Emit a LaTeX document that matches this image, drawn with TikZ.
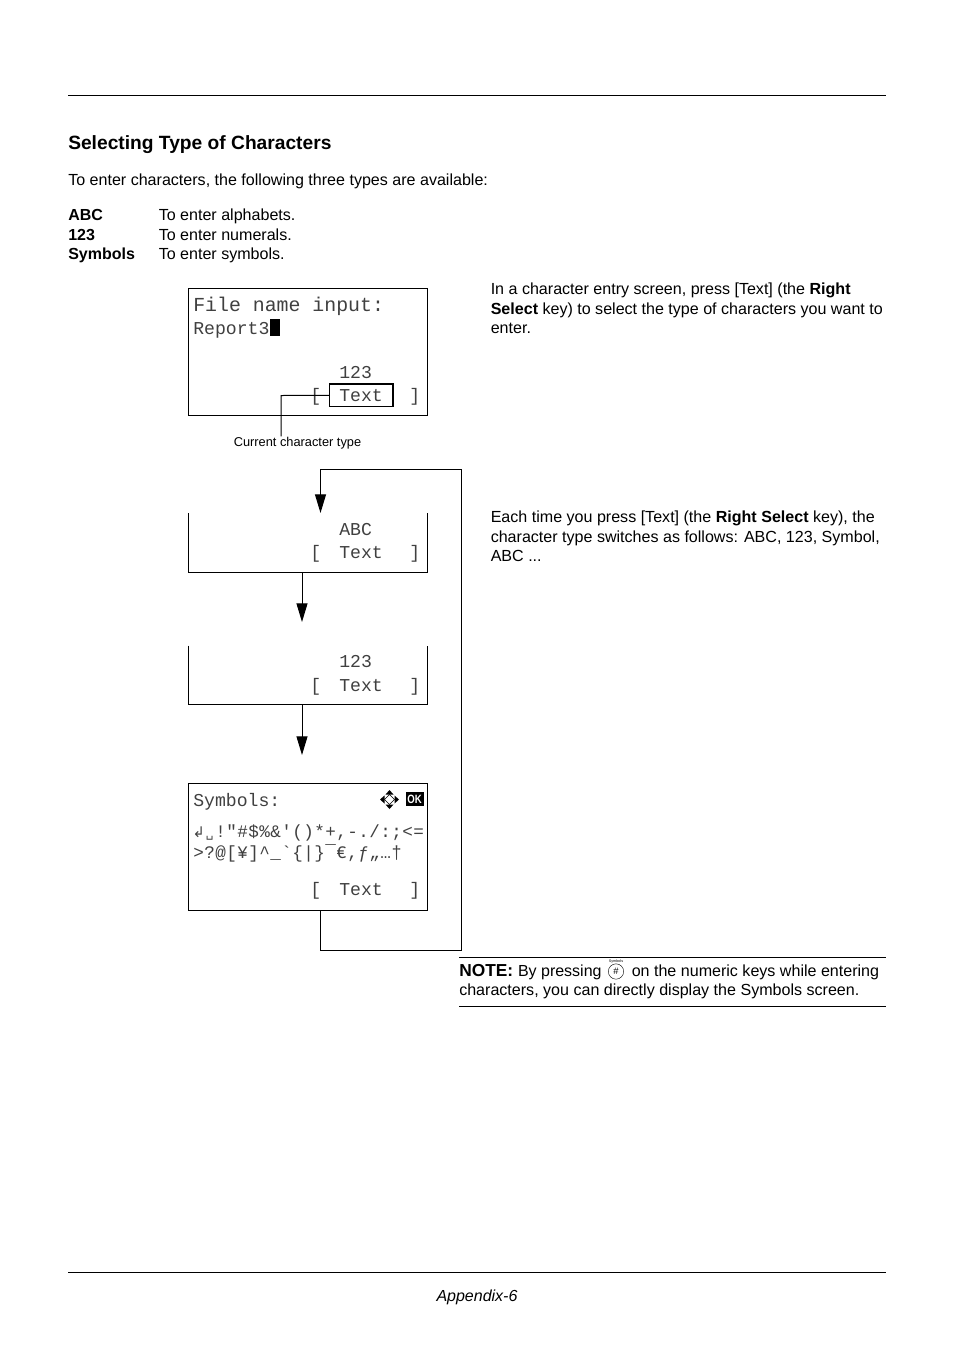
\documentclass[tikz,border=0pt]{standalone}
\usepackage{fontspec}
\setmainfont{Liberation Sans}
\newfontfamily\lcdfont{Liberation Mono}
\newfontfamily\dejafont{DejaVu Sans}
\usetikzlibrary{arrows.meta, positioning}
\newcommand{\lcdchar}[1]{\makebox[8.25pt][c]{#1}}
\begin{document}
\begin{tikzpicture}[
    x=0.75pt, y=-0.75pt,
    body/.style    = {anchor=base west, inner sep=0pt, font=\fontsize{12.05}{14.6}\selectfont, align=left},
    lcd/.style     = {anchor=base west, inner sep=0pt, font=\lcdfont\fontsize{13.6}{16}\selectfont, text=black!75},
    lcdbig/.style  = {lcd, font=\lcdfont\fontsize{14.9}{16}\selectfont},
    lcdsym/.style  = {lcd, font=\lcdfont\fontsize{13.2}{16}\selectfont},
    screen/.style  = {inner sep=0pt, outer sep=0pt, minimum width=179.25pt, anchor=north west},
    arrow/.style   = {-{Triangle[length=14pt, width=8.25pt]}, line width=0.75pt},
    rule/.style    = {line width=0.6pt},
]
\useasboundingbox (0,0) rectangle (954,1350);

%% Page rules
\coordinate (topl) at (68,95.5);    \coordinate (topr) at (886,95.5);
\coordinate (botl) at (68,1272.5);  \coordinate (botr) at (886,1272.5);
\draw[rule] (topl) -- (topr);
\draw[rule] (botl) -- (botr);

%% Heading and list
\node[body, font=\fontsize{14.4}{16}\selectfont\bfseries] (title) at (68,149) {Selecting Type of Characters};
\node[body] (intro) at (68,185) {To enter characters, the following three types are available:};
\node[body, font=\fontsize{12}{14.6}\selectfont\bfseries] (abckey) at (68,220) {ABC};
\node[body] (abctxt) at (158.5,220) {To enter alphabets.};
\node[body, font=\fontsize{12}{14.6}\selectfont\bfseries] (numkey) at (68,240) {123};
\node[body] (numtxt) at (158.5,240) {To enter numerals.};
\node[body, font=\fontsize{12}{14.6}\selectfont\bfseries] (symkey) at (68,259) {Symbols};
\node[body] (symtxt) at (158.5,259) {To enter symbols.};

%% Right column
\node[body, anchor=north west] (para1) at (490.5,283) {In a character entry screen, press [Text] (the \textbf{Right}\\
  \textbf{Select} key) to select the type of characters you want to\\ enter.};
\node[body, anchor=north west] (para2) at (490.5,511) {Each time you press [Text] (the \textbf{Right Select} key), the\\
  character type switches as follows: ABC, 123, Symbol,\\ ABC ...};

%% Input screen
\node[screen, draw, minimum height=95.25pt] (input) at (188.5,288.5) {};
\node[lcdbig] (inputa) at (193,311) {File name input:};
\node[lcd] (inputb) at (193,334) {Report3};
\node[fill=black, inner sep=0pt, minimum width=7.5pt, minimum height=12.75pt, anchor=south west] (cursor) at (270,336) {};
\node[lcd] (inputc) at (339,378) {123};
\node[lcd] (inputd) at (310,401) {[};
\node[lcd] (inpute) at (339,401) {Text};
\node[lcd] (inputf) at (409,401) {]};
\node[draw, line width=1.1pt, inner sep=0pt, outer sep=0pt, minimum width=47.5pt, minimum height=17pt, anchor=north west] (textkey) at (329.5,384) {};
\node[inner sep=0pt, anchor=base, font=\fontsize{9.6}{11}\selectfont] (curtype) at (297.5,446) {Current character type};
\coordinate (keyturn) at (281,395.5);
\draw[line width=0.75pt] (textkey.west) -- (keyturn) -- (keyturn |- curtype.north);

%% ABC screen
\node[screen, minimum height=44.25pt] (abc) at (188.5,513) {};
\node[lcd] (abca) at (339,535) {ABC};
\node[lcd] (abcb) at (310,558) {[};
\node[lcd] (abcc) at (339,558) {Text};
\node[lcd] (abcd) at (409,558) {]};
\draw (abc.north west) -- (abc.south west) -- (abc.south east) -- (abc.north east);

%% 123 screen
\node[screen, minimum height=44.25pt] (num) at (188.5,645.5) {};
\node[lcd] (numa) at (339,667) {123};
\node[lcd] (numb) at (310,691) {[};
\node[lcd] (numc) at (339,691) {Text};
\node[lcd] (numd) at (409,691) {]};
\draw (num.north west) -- (num.south west) -- (num.south east) -- (num.north east);

%% Symbols screen
\node[screen, draw, minimum height=95.25pt] (syms) at (188.5,783.5) {};
\node[lcd] (symsa) at (193,806) {Symbols:};
\node[lcdsym] (symsb) at (193,837) {\lcdchar{\dejafont\fontsize{11}{12}\selectfont ↲}\lcdchar{\dejafont\fontsize{9}{10}\selectfont ␣}\lcdchar{!}\lcdchar{"}\lcdchar{\#}\lcdchar{\$}\lcdchar{\%}\lcdchar{\&}\lcdchar{'}\lcdchar{(}\lcdchar{)}\lcdchar{*}\lcdchar{+}\lcdchar{,}\lcdchar{-}\lcdchar{.}\lcdchar{/}\lcdchar{:}\lcdchar{;}\lcdchar{<}\lcdchar{=}};
\node[lcdsym] (symsc) at (193,858) {\lcdchar{>}\lcdchar{?}\lcdchar{@}\lcdchar{[}\lcdchar{¥}\lcdchar{]}\lcdchar{\^{}}\lcdchar{\_}\lcdchar{`}\lcdchar{\{}\lcdchar{|}\lcdchar{\}}\lcdchar{¯}\lcdchar{€}\lcdchar{,}\lcdchar{ƒ}\lcdchar{„}\lcdchar{…}\lcdchar{†}};
\node[lcd] (symsd) at (310,895) {[};
\node[lcd] (symse) at (339,895) {Text};
\node[lcd] (symsf) at (409,895) {]};
\coordinate (movekey) at (389.5,799.5);
\draw[line width=0.4pt] ([shift={(-5,0)}]movekey) -- ([shift={(0,-5)}]movekey) -- ([shift={(5,0)}]movekey) -- ([shift={(0,5)}]movekey) -- cycle;
\foreach \r in {0,90,180,270}
  \fill[shift={(movekey)}, rotate=\r] (9.5,0) -- (5,-4) -- (5,4) -- cycle;
\node[fill=black, text=white, inner sep=0pt, minimum width=13.5pt, minimum height=10.5pt, font=\fontsize{9}{9}\selectfont\bfseries] (okkey) at (414.5,799) {\scalebox{0.8}[1]{OK}};

%% Flow between the screens
\coordinate (abcout) at (302,573);   \coordinate (numin) at (302,622);
\coordinate (numout) at (302,705);   \coordinate (symin) at (302,755);
\coordinate (backa) at (320.5,950.5); \coordinate (backb) at (461.5,950.5);
\coordinate (backc) at (461.5,469.5); \coordinate (backd) at (320.5,469.5);
\draw[arrow] (abcout) -- (numin);
\draw[arrow] (numout) -- (symin);
\draw[arrow] (backa |- syms.south) -- (backa) -- (backb) -- (backc) -- (backd) -- (backd |- abc.north);

%% Note
\coordinate (notel) at (459,957.5);  \coordinate (noter) at (886,957.5);
\coordinate (notem) at (459,1006.5); \coordinate (noten) at (886,1006.5);
\draw[rule] (notel) -- (noter);
\draw[rule] (notem) -- (noten);
\node[body] (notea) at (459,976) {\fontsize{13}{14}\selectfont\textbf{NOTE:} \fontsize{12}{14}\selectfont By pressing};
\node[draw, circle, inner sep=0pt, minimum size=11.5pt, line width=0.3pt, font=\fontsize{7}{7}\selectfont] (hashkey) at (616,971.5) {\#};
\node[inner sep=0pt, font=\fontsize{2.8}{3}\selectfont] (hashlab) at (616,961.5) {Symbols};
\node[body] (noteb) at (631.5,976) {on the numeric keys while entering};
\node[body] (notec) at (459,995) {characters, you can directly display the Symbols screen.};

%% Footer
\node[body, anchor=base, font=\fontsize{12}{14}\selectfont\itshape] (footer) at (477,1301) {Appendix-6};
\end{tikzpicture}
\end{document}
